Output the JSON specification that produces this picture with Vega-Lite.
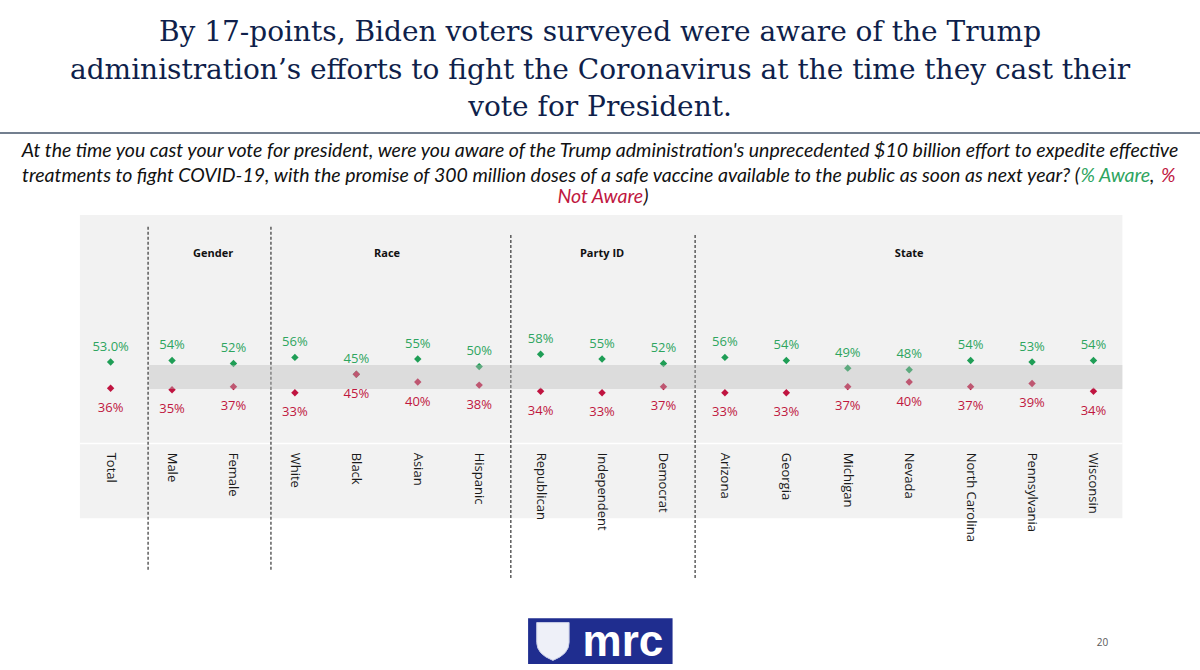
{
  "$schema": "https://vega.github.io/schema/vega-lite/v6.json",
  "width": 1200,
  "height": 537,
  "autosize": {"type": "none"},
  "padding": {"left": 0, "right": 0, "top": 133, "bottom": 0},
  "background": "white",
  "config": {"view": {"stroke": null}},
  "title": {
    "text": ["By 17-points, Biden voters surveyed were aware of the Trump", "administration’s efforts to fight the Coronavirus at the time they cast their", "vote for President."],
    "font": "DejaVu Serif",
    "fontSize": 28,
    "fontWeight": "normal",
    "color": "#0f1f4b",
    "lineHeight": 37.6,
    "anchor": "middle",
    "frame": "group",
    "offset": 10
  },
  "datasets": {
    "survey": [
      {"cat": "Total", "measure": "Aware", "pct": 53.0, "label": "53.0%"},
      {"cat": "Male", "measure": "Aware", "pct": 54, "label": "54%"},
      {"cat": "Female", "measure": "Aware", "pct": 52, "label": "52%"},
      {"cat": "White", "measure": "Aware", "pct": 56, "label": "56%"},
      {"cat": "Black", "measure": "Aware", "pct": 45, "label": "45%"},
      {"cat": "Asian", "measure": "Aware", "pct": 55, "label": "55%"},
      {"cat": "Hispanic", "measure": "Aware", "pct": 50, "label": "50%"},
      {"cat": "Republican", "measure": "Aware", "pct": 58, "label": "58%"},
      {"cat": "Independent", "measure": "Aware", "pct": 55, "label": "55%"},
      {"cat": "Democrat", "measure": "Aware", "pct": 52, "label": "52%"},
      {"cat": "Arizona", "measure": "Aware", "pct": 56, "label": "56%"},
      {"cat": "Georgia", "measure": "Aware", "pct": 54, "label": "54%"},
      {"cat": "Michigan", "measure": "Aware", "pct": 49, "label": "49%"},
      {"cat": "Nevada", "measure": "Aware", "pct": 48, "label": "48%"},
      {"cat": "North Carolina", "measure": "Aware", "pct": 54, "label": "54%"},
      {"cat": "Pennsylvania", "measure": "Aware", "pct": 53, "label": "53%"},
      {"cat": "Wisconsin", "measure": "Aware", "pct": 54, "label": "54%"},
      {"cat": "Total", "measure": "Not Aware", "pct": 36, "label": "36%"},
      {"cat": "Male", "measure": "Not Aware", "pct": 35, "label": "35%"},
      {"cat": "Female", "measure": "Not Aware", "pct": 37, "label": "37%"},
      {"cat": "White", "measure": "Not Aware", "pct": 33, "label": "33%"},
      {"cat": "Black", "measure": "Not Aware", "pct": 45, "label": "45%"},
      {"cat": "Asian", "measure": "Not Aware", "pct": 40, "label": "40%"},
      {"cat": "Hispanic", "measure": "Not Aware", "pct": 38, "label": "38%"},
      {"cat": "Republican", "measure": "Not Aware", "pct": 34, "label": "34%"},
      {"cat": "Independent", "measure": "Not Aware", "pct": 33, "label": "33%"},
      {"cat": "Democrat", "measure": "Not Aware", "pct": 37, "label": "37%"},
      {"cat": "Arizona", "measure": "Not Aware", "pct": 33, "label": "33%"},
      {"cat": "Georgia", "measure": "Not Aware", "pct": 33, "label": "33%"},
      {"cat": "Michigan", "measure": "Not Aware", "pct": 37, "label": "37%"},
      {"cat": "Nevada", "measure": "Not Aware", "pct": 40, "label": "40%"},
      {"cat": "North Carolina", "measure": "Not Aware", "pct": 37, "label": "37%"},
      {"cat": "Pennsylvania", "measure": "Not Aware", "pct": 39, "label": "39%"},
      {"cat": "Wisconsin", "measure": "Not Aware", "pct": 34, "label": "34%"}
    ]
  },
  "layer": [
    {
      "data": {"values": [{}]},
      "mark": {"type": "rect", "fill": "#f2f2f2"},
      "encoding": {
        "x": {
          "datum": "Total", "bandPosition": 0, "type": "nominal",
          "scale": {
            "type": "band",
            "domain": ["Total", "Male", "Female", "White", "Black", "Asian", "Hispanic", "Republican", "Independent", "Democrat", "Arizona", "Georgia", "Michigan", "Nevada", "North Carolina", "Pennsylvania", "Wisconsin"],
            "range": [79.9, 1124.2],
            "paddingInner": 0, "paddingOuter": 0
          },
          "axis": null
        },
        "x2": {"datum": "Wisconsin", "bandPosition": 0.97},
        "y": {"datum": 148.4, "type": "quantitative", "scale": {"domain": [-147, 201.7], "nice": false, "zero": false}, "axis": null},
        "y2": {"datum": -48.4}
      }
    },
    {
      "data": {"values": [{}]},
      "mark": {"type": "rule", "stroke": "#ffffff", "strokeWidth": 1.5},
      "encoding": {
        "x": {"datum": "Total", "bandPosition": 0},
        "x2": {"datum": "Wisconsin", "bandPosition": 0.97},
        "y": {"datum": 0, "type": "quantitative"}
      }
    },
    {
      "data": {"values": [{"cat": "Male"}, {"cat": "White"}]},
      "mark": {"type": "rule", "stroke": "#444444", "strokeWidth": 1.3, "strokeDash": [3, 2]},
      "encoding": {
        "x": {"field": "cat", "type": "nominal", "bandPosition": 0.11},
        "y": {"datum": 140.8, "type": "quantitative"},
        "y2": {"datum": -82.1}
      }
    },
    {
      "data": {"values": [{"cat": "Republican"}, {"cat": "Arizona"}]},
      "mark": {"type": "rule", "stroke": "#444444", "strokeWidth": 1.3, "strokeDash": [3, 2]},
      "encoding": {
        "x": {"field": "cat", "type": "nominal", "bandPosition": 0.015},
        "y": {"datum": 135.5, "type": "quantitative"},
        "y2": {"datum": -88.6}
      }
    },
    {
      "data": {"name": "survey"},
      "mark": {"type": "point", "shape": "diamond", "filled": true, "size": 55, "opacity": 1},
      "encoding": {
        "x": {"field": "cat", "type": "nominal"},
        "y": {"field": "pct", "type": "quantitative"},
        "color": {"field": "measure", "type": "nominal", "scale": {"domain": ["Aware", "Not Aware"], "range": ["#1f9e56", "#c01440"]}, "legend": null}
      }
    },
    {
      "data": {"values": [{}]},
      "mark": {"type": "rect", "fill": "#bbbbbb", "opacity": 0.4},
      "encoding": {
        "x": {"datum": "Male", "bandPosition": 0.128},
        "x2": {"datum": "Wisconsin", "bandPosition": 0.97},
        "y": {"datum": 51.0, "type": "quantitative"},
        "y2": {"datum": 35.45}
      }
    },
    {
      "data": {"name": "survey"},
      "transform": [{"filter": {"field": "measure", "equal": "Aware"}}],
      "mark": {"type": "text", "font": "Open Sans", "fontSize": 13, "fill": "#2ea55f", "align": "center", "baseline": "alphabetic", "dy": -11.3},
      "encoding": {
        "x": {"field": "cat", "type": "nominal"},
        "y": {"field": "pct", "type": "quantitative"},
        "text": {"field": "label"}
      }
    },
    {
      "data": {"name": "survey"},
      "transform": [{"filter": {"field": "measure", "equal": "Not Aware"}}],
      "mark": {"type": "text", "font": "Open Sans", "fontSize": 13, "fill": "#c0183f", "align": "center", "baseline": "alphabetic", "dy": 23.6},
      "encoding": {
        "x": {"field": "cat", "type": "nominal"},
        "y": {"field": "pct", "type": "quantitative"},
        "text": {"field": "label"}
      }
    },
    {
      "data": {"name": "survey"},
      "transform": [{"filter": {"field": "measure", "equal": "Aware"}}],
      "mark": {"type": "text", "font": "Open Sans", "fontSize": 13, "fill": "#1a1a1a", "angle": 90, "align": "left", "baseline": "middle"},
      "encoding": {
        "x": {"field": "cat", "type": "nominal"},
        "y": {"datum": -5.9, "type": "quantitative"},
        "text": {"field": "cat"}
      }
    },
    {
      "data": {"values": [{"group": "Gender", "at": "Female"}]},
      "mark": {"type": "text", "font": "Open Sans", "fontSize": 11, "fontWeight": "bold", "fill": "#111111", "align": "center", "baseline": "alphabetic"},
      "encoding": {
        "x": {"field": "at", "type": "nominal", "bandPosition": 0.17},
        "y": {"datum": 120.97, "type": "quantitative"},
        "text": {"field": "group"}
      }
    },
    {
      "data": {"values": [{"group": "Race", "at": "Asian"}]},
      "mark": {"type": "text", "font": "Open Sans", "fontSize": 11, "fontWeight": "bold", "fill": "#111111", "align": "center", "baseline": "alphabetic"},
      "encoding": {
        "x": {"field": "at", "type": "nominal", "bandPosition": 0},
        "y": {"datum": 120.97, "type": "quantitative"},
        "text": {"field": "group"}
      }
    },
    {
      "data": {"values": [{"group": "Party ID", "at": "Independent"}, {"group": "State", "at": "Nevada"}]},
      "mark": {"type": "text", "font": "Open Sans", "fontSize": 11, "fontWeight": "bold", "fill": "#111111", "align": "center", "baseline": "alphabetic"},
      "encoding": {
        "x": {"field": "at", "type": "nominal", "bandPosition": 0.5},
        "y": {"datum": 120.97, "type": "quantitative"},
        "text": {"field": "group"}
      }
    },
    {
      "data": {"values": [{}]},
      "mark": {"type": "text", "font": "Lato", "fontStyle": "italic", "fontSize": 19.5, "fill": "#111111", "align": "center", "baseline": "alphabetic", "dx": -2},
      "encoding": {
        "x": {"datum": "Independent"},
        "y": {"datum": 185.9, "type": "quantitative"},
        "text": {"value": "At the time you cast your vote for president, were you aware of the Trump administration's unprecedented $10 billion effort to expedite effective"}
      }
    },
    {
      "data": {"values": [{}]},
      "mark": {"type": "text", "font": "Lato", "fontStyle": "italic", "fontSize": 19.5, "fill": "#111111", "align": "right", "baseline": "alphabetic", "dx": -13.6},
      "encoding": {
        "x": {"datum": "Wisconsin"},
        "y": {"datum": 170.06, "type": "quantitative"},
        "text": {"value": "treatments to fight COVID-19, with the promise of 300 million doses of a safe vaccine available to the public as soon as next year? ("}
      }
    },
    {
      "data": {"values": [{}]},
      "mark": {"type": "text", "font": "Lato", "fontStyle": "italic", "fontSize": 19.5, "fill": "#2ea55f", "align": "left", "baseline": "alphabetic", "dx": -13.1},
      "encoding": {
        "x": {"datum": "Wisconsin"},
        "y": {"datum": 170.06, "type": "quantitative"},
        "text": {"value": "% Aware"}
      }
    },
    {
      "data": {"values": [{}]},
      "mark": {"type": "text", "font": "Lato", "fontStyle": "italic", "fontSize": 19.5, "fill": "#111111", "align": "left", "baseline": "alphabetic", "dx": 56.5},
      "encoding": {
        "x": {"datum": "Wisconsin"},
        "y": {"datum": 170.06, "type": "quantitative"},
        "text": {"value": ","}
      }
    },
    {
      "data": {"values": [{}]},
      "mark": {"type": "text", "font": "Lato", "fontStyle": "italic", "fontSize": 19.5, "fill": "#c0183f", "align": "left", "baseline": "alphabetic", "dx": 67.5},
      "encoding": {
        "x": {"datum": "Wisconsin"},
        "y": {"datum": 170.06, "type": "quantitative"},
        "text": {"value": "%"}
      }
    },
    {
      "data": {"values": [{}]},
      "mark": {"type": "text", "font": "Lato", "fontStyle": "italic", "fontSize": 19.5, "fill": "#c0183f", "align": "right", "baseline": "alphabetic", "dx": 41},
      "encoding": {
        "x": {"datum": "Independent"},
        "y": {"datum": 156.0, "type": "quantitative"},
        "text": {"value": "Not Aware"}
      }
    },
    {
      "data": {"values": [{}]},
      "mark": {"type": "text", "font": "Lato", "fontStyle": "italic", "fontSize": 19.5, "fill": "#111111", "align": "left", "baseline": "alphabetic", "dx": 41.5},
      "encoding": {
        "x": {"datum": "Independent"},
        "y": {"datum": 156.0, "type": "quantitative"},
        "text": {"value": ")"}
      }
    },
    {
      "data": {"values": [{}]},
      "mark": {"type": "rule", "stroke": "#44546a", "strokeWidth": 1.5},
      "encoding": {
        "y": {"datum": 201.7, "type": "quantitative"}
      }
    },
    {
      "data": {"values": [{}]},
      "mark": {"type": "rect", "fill": "#1f2d8f"},
      "encoding": {
        "x": {"datum": "Republican", "bandPosition": 0.296},
        "x2": {"datum": "Democrat", "bandPosition": 0.648},
        "y": {"datum": -113.4, "type": "quantitative"},
        "y2": {"datum": -143.1}
      }
    },
    {
      "data": {"values": [{}]},
      "mark": {"type": "point", "filled": true, "shape": "M -0.9 -1 L 0.9 -1 L 0.9 0.1 Q 0.9 0.75 0 1.1 Q -0.9 0.75 -0.9 0.1 Z", "size": 1296, "fill": "#eef0f8", "stroke": "#c8cde6", "strokeWidth": 1, "opacity": 1},
      "encoding": {
        "x": {"datum": "Republican", "bandPosition": 0.7},
        "y": {"datum": -127.9, "type": "quantitative"}
      }
    },
    {
      "data": {"values": [{}]},
      "mark": {"type": "text", "font": "Liberation Sans", "fontWeight": "bold", "fontSize": 44, "fill": "#ffffff", "align": "center", "baseline": "alphabetic"},
      "encoding": {
        "x": {"datum": "Independent", "bandPosition": 0.84},
        "y": {"datum": -137.7, "type": "quantitative"},
        "text": {"value": "mrc"}
      }
    },
    {
      "data": {"values": [{}]},
      "mark": {"type": "text", "font": "Open Sans", "fontSize": 10, "fill": "#595959", "align": "center", "baseline": "alphabetic", "dx": 9},
      "encoding": {
        "x": {"datum": "Wisconsin"},
        "y": {"datum": -131.4, "type": "quantitative"},
        "text": {"value": "20"}
      }
    }
  ]
}
